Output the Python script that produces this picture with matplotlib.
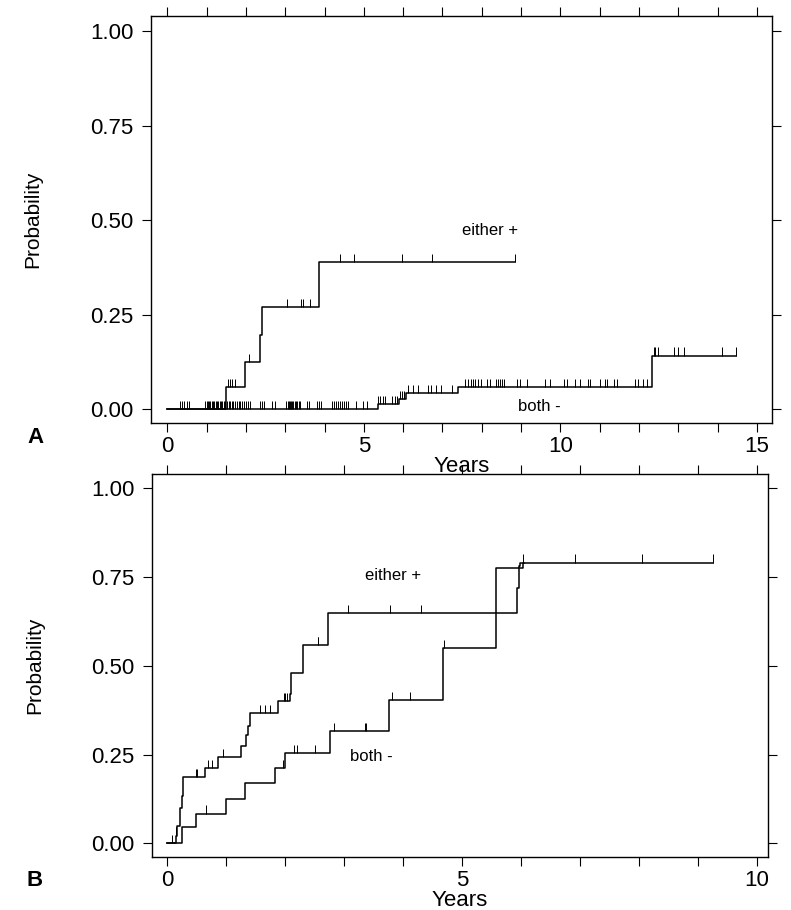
import numpy as np
import matplotlib
matplotlib.use("Agg")
import matplotlib.pyplot as plt

plt.rcParams['font.family'] = ['Liberation Sans', 'DejaVu Sans']

# ---- panel A data (years, cumulative probability) ----
a_pos_t = [0, 1.5, 1.98, 2.37, 2.42, 3.87]
a_pos_p = [0, 0.058, 0.124, 0.197, 0.27, 0.39]
a_pos_end = 8.85
a_pos_cens = [1.55, 1.6, 1.65, 1.72, 2.08, 3.05, 3.4, 3.45, 3.64, 4.4, 4.74,
              5.96, 6.74, 8.85]

a_neg_t = [0, 5.35, 5.9, 6.07, 7.4, 12.34]
a_neg_p = [0, 0.013, 0.026, 0.042, 0.058, 0.142]
a_neg_end = 14.46
a_neg_cens = [0.33, 0.38, 0.43, 0.5, 0.56,
              0.97, 1.0, 1.03, 1.06, 1.1, 1.13, 1.16, 1.2, 1.23, 1.26, 1.3,
              1.33, 1.36, 1.4, 1.44, 1.48, 1.53, 1.56, 1.6, 1.64, 1.68, 1.72,
              1.77, 1.82, 1.86, 1.9, 1.95, 2.0, 2.05, 2.1,
              2.37, 2.42, 2.47, 2.67, 2.75,
              3.03, 3.06, 3.09, 3.12, 3.15, 3.18, 3.21, 3.24, 3.27, 3.3, 3.34,
              3.38, 3.55, 3.6, 3.8, 3.85, 3.9,
              4.2, 4.25, 4.3, 4.35, 4.4, 4.45, 4.5, 4.55, 4.6, 4.8, 4.99, 5.08,
              5.37, 5.42, 5.5, 5.54, 5.72, 5.8, 5.85,
              5.93, 5.98, 6.03,
              6.12, 6.24, 6.38, 6.62, 6.7, 6.84, 6.97, 7.24,
              7.58, 7.64, 7.72, 7.77, 7.83, 7.9, 7.98, 8.14, 8.21, 8.36, 8.41,
              8.47, 8.51, 8.57, 8.89, 8.97, 9.15, 9.61, 9.74, 10.08, 10.16,
              10.37, 10.5, 10.71, 10.76, 11.01, 11.14, 11.18, 11.35, 11.43,
              11.9, 11.98, 12.11, 12.2,
              12.37, 12.41, 12.47, 12.88, 13.0, 13.13, 14.1, 14.46]

# ---- panel B data ----
b_pos_t = [0, 0.15, 0.18, 0.22, 0.25, 0.27, 0.64, 0.86, 1.25, 1.34, 1.38,
           1.41, 1.88, 2.08, 2.11, 2.3, 2.73, 5.93, 5.97, 5.98]
b_pos_p = [0, 0.022, 0.048, 0.1, 0.134, 0.187, 0.212, 0.243, 0.274, 0.304,
           0.33, 0.366, 0.4, 0.42, 0.48, 0.559, 0.648, 0.718, 0.78, 0.79]
b_pos_end = 9.25
b_pos_cens = [0.08, 0.15, 0.16, 0.5, 0.51, 0.69, 0.77, 0.95, 1.58, 1.66,
              1.75, 1.99, 2.01, 2.03, 2.56, 2.57, 3.07, 3.78, 4.3, 6.92,
              8.05, 9.25]

b_neg_t = [0, 0.25, 0.5, 1.0, 1.32, 1.83, 2.0, 2.76, 3.76, 4.68, 5.58, 6.03]
b_neg_p = [0, 0.045, 0.084, 0.126, 0.17, 0.212, 0.254, 0.316, 0.402, 0.549,
           0.775, 0.79]
b_neg_end = 6.05
b_neg_cens = [0.66, 1.97, 2.15, 2.2, 2.51, 2.84, 3.36, 3.37, 3.81, 4.12,
              4.7, 6.03]


def km_curve(ax, t, p, end, cens, tick_h):
    xs = list(t) + [end]
    ys = list(p) + [p[-1]]
    ax.step(xs, ys, where='post', color='black', lw=1.1)
    idx = np.searchsorted(t, cens, side='right') - 1
    lev = np.array(p)[idx]
    ax.vlines(cens, lev, lev + tick_h, color='black', lw=0.7)


def style(ax, xmax, xlim, ylim):
    ax.set_xlim(*xlim)
    ax.set_ylim(*ylim)
    ax.set_xticks(np.arange(0, xmax + 1, 1))
    ax.set_xticklabels([str(v) if v % 5 == 0 else '' for v in range(xmax + 1)])
    ax.set_yticks([0, 0.25, 0.5, 0.75, 1.0])
    ax.set_yticklabels(['0.00', '0.25', '0.50', '0.75', '1.00'])
    ax.tick_params(direction='out', length=6.5, width=0.8, labelsize=16,
                   top=True, right=True)
    ax.tick_params(axis='y', pad=6)
    ax.tick_params(axis='x', pad=3)
    for s in ax.spines.values():
        s.set_linewidth(1.0)
    ax.set_xlabel('Years', fontsize=16, labelpad=-1)
    ax.set_ylabel('Probability', fontsize=15)
    ax.yaxis.set_label_coords(-0.175, 0.5)


fig = plt.figure(figsize=(7.91, 9.10), dpi=100)

axA = fig.add_axes([0.191, 0.535, 0.785, 0.447])
km_curve(axA, a_pos_t, a_pos_p, a_pos_end, a_pos_cens, 0.022)
km_curve(axA, a_neg_t, a_neg_p, a_neg_end, a_neg_cens, 0.022)
style(axA, 15, (-0.41, 15.38), (-0.037, 1.04))
axA.text(8.21, 0.474, 'either +', fontsize=12, ha='center', va='center')
axA.text(9.46, 0.008, 'both -', fontsize=12, ha='center', va='center')

axB = fig.add_axes([0.192, 0.058, 0.779, 0.421])
km_curve(axB, b_pos_t, b_pos_p, b_pos_end, b_pos_cens, 0.023)
km_curve(axB, b_neg_t, b_neg_p, b_neg_end, b_neg_cens, 0.023)
style(axB, 10, (-0.254, 10.19), (-0.039, 1.039))
axB.text(3.83, 0.755, 'either +', fontsize=12, ha='center', va='center')
axB.text(3.47, 0.245, 'both -', fontsize=12, ha='center', va='center')

fig.text(35 / 791, 1 - 437 / 910, 'A', fontsize=16, fontweight='bold',
         ha='center', va='center')
fig.text(35 / 791, 1 - 880 / 910, 'B', fontsize=16, fontweight='bold',
         ha='center', va='center')

fig.savefig('out.png', dpi=100)
